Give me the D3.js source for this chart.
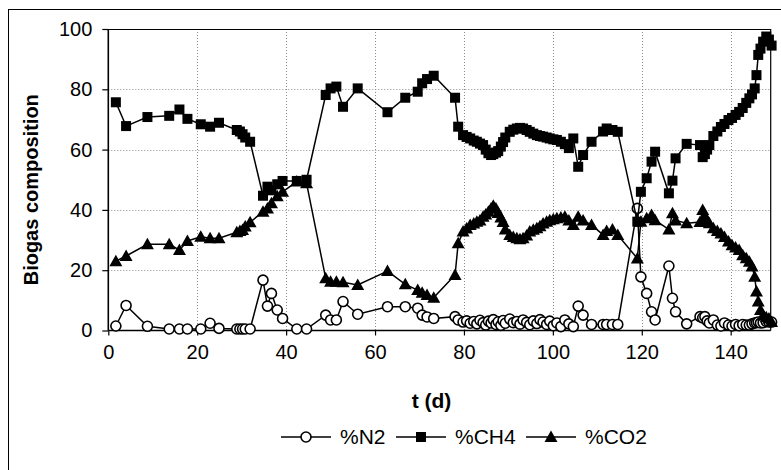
<!DOCTYPE html>
<html>
<head>
<meta charset="utf-8">
<script src="https://cdnjs.cloudflare.com/ajax/libs/d3/7.8.5/d3.min.js"></script>
<style>
  html, body { margin: 0; padding: 0; background: #fff; }
  svg { display: block; font-family: Arial, "Liberation Sans", sans-serif; }
</style>
</head>
<body>
<svg id="chart" width="781" height="470"></svg>
<script>
// ---- data ----
const days = [
  1.7, 4, 8.8, 13.7, 16, 17.8, 20.8, 22.9, 24.9, 28.9, 29.6, 30.2, 30.8, 31.9,
  34.8, 35.8, 36.7, 38, 39.2, 42.4, 44.6,
  48.9, 50, 51.3, 52.8, 56.1, 62.8, 66.8, 69.6, 70.6, 71.7, 73.2, 78,
  78.7, 79.8, 80.6, 81.4, 82.2, 82.9, 83.6, 84.3, 84.9, 85.5, 86.1, 86.6, 87.2, 87.7, 88.3, 88.8, 89.3,
  90.3, 91.1, 91.9, 92.6, 93.3, 94.1, 94.8, 95.6, 96.4, 97.1, 97.8, 98.6, 99.3, 100.1, 100.9, 101.8, 102.7, 103.6,
  104.6, 105.7, 106.8, 108.7, 111.3, 112.1, 113.4, 114.6,
  119, 119.8, 121.1, 122.2, 123, 126.1, 126.9, 127.6,
  130.1, 133.1, 133.7, 134.2, 134.7, 135.2, 136.1, 137, 137.8, 138.6, 139.5, 140.3, 141.1, 141.9,
  142.7, 143.5, 144.2, 144.8, 145.4, 145.8, 146.2, 146.7, 147.3, 148, 148.6, 149.2
];
const n2 = [
  1.5, 8.3, 1.4, 0.5, 0.5, 0.5, 0.5, 2.4, 0.7, 0.5, 0.5, 0.5, 0.5, 0.5,
  16.7, 8.1, 12.3, 6.8, 4, 0.5, 0.5,
  5.1, 3.5, 3.5, 9.6, 5.4, 7.9, 7.9, 7.4, 5.1, 4.5, 4, 4.6,
  3.5, 2.8, 3.2, 2.4, 3.0, 2.2, 3.4, 2.6, 1.8, 3.1, 2.5, 3.6, 2.0, 2.9, 1.7, 3.3, 2.4,
  3.8, 2.6, 3.0, 2.1, 3.5, 2.7, 1.9, 3.2, 2.3, 3.6, 2.8, 2.0, 3.1, 1.6, 2.5, 1.3, 3.5, 2.2,
  1.3, 8.1, 5.1, 2, 2, 2, 2, 2,
  40.5, 17.8, 12.3, 6.2, 3.5, 21.4, 10.7, 6.2,
  2.2, 4.6, 4.2, 4.6, 3.2, 2.5, 3.5, 1.8, 1.5, 2.5, 1.8, 1.5, 2, 1.6,
  2, 1.8, 1.8, 2.2, 2.5, 2.6, 2.8, 2.5, 2.6, 3, 2.8, 2.8
];
const ch4 = [
  75.7, 67.8, 70.8, 71.2, 73.3, 70.2, 68.4, 67.6, 68.9, 66.5, 66, 65.1, 64, 62.6,
  44.7, 47.7, 46.5, 48.5, 49.6, 49.6, 50,
  78.1, 80.3, 80.9, 74.2, 80.3, 72.4, 77.2, 79.2, 82, 83.4, 84.5, 77.2,
  67.6, 64.8, 64.2, 63.7, 63, 62.6, 62, 61.5, 60, 58.8, 58.2, 58.5, 59, 59.5, 61, 62.5, 64,
  65.9, 66.6, 67, 67.2, 67, 66.5, 65.9, 65.3, 64.8, 64.5, 64.3, 64, 63.7, 63.4, 63.2, 62.6, 61.8, 60.5,
  63.7, 54.3, 58.2, 62.6, 66, 67, 66.5, 65.9,
  36.1, 46, 50.5, 56, 59.3, 45.5, 49.7, 57.1,
  61.9, 61.5, 57.5, 58.5, 60, 61.5, 64.5, 66, 67.5, 68.5, 69.8, 70.5, 71.5, 72.5,
  73.8, 75.5, 77, 78.3, 80.3, 84.7, 91.4, 93.5, 95.8, 97.5, 96.5, 94.5
];
const co2 = [
  23, 24.7, 28.6, 28.6, 26.7, 29.7, 31.1, 30.6, 30.6, 32.6, 33, 33.3, 34.5, 35.9,
  39.4, 40.5, 42.2, 44.5, 46, 49.4, 48.8,
  17.3, 16.2, 16.2, 16, 15.1, 19.7, 15.3, 13.4, 12.5, 11.8, 10.9, 18.4,
  28.9, 32.8, 33.8, 35, 35.5, 36.1, 36.5, 37.7, 38.5, 39.4, 40.5, 41.4, 40.5, 39, 37.5, 36, 33.5,
  31.7, 31, 30.6, 30.3, 30.6, 31.5, 32.8, 33.4, 33.9, 34.6, 35.5, 36.1, 36.6, 36.9, 37.2, 37.5, 37.7, 36.5,
  35, 37.7, 36.5, 35, 31.7, 33, 33.5, 31.7,
  23.9, 36.1, 37.2, 38.3, 36.6, 33.5, 38.9, 36.5,
  35.6, 36, 40, 38, 36.5, 35.6, 33.9, 33, 32.2, 31, 29.5, 28.3, 27.5, 26.7,
  25, 24, 22.8, 21.2, 17.8, 12.9, 9.6, 6.8, 5, 4.4, 4, 2.8
];
const seriesNames = ["%N2", "%CH4", "%CO2"];
const xTicks = [0, 20, 40, 60, 80, 100, 120, 140];
const yTicks = [0, 20, 40, 60, 80, 100];

// ---- layout ----
const svg = d3.select("#chart");
const L = 108.3, R = 770.7, T = 29, B = 330.5;
const x = d3.scaleLinear().domain([0, 149]).range([L, R]);
const y = d3.scaleLinear().domain([0, 100]).range([B, T]);

// outer frame (cropped on right/bottom)
svg.append("rect").attr("x", 8.5).attr("y", 9.5).attr("width", 900).attr("height", 900)
  .attr("fill", "none").attr("stroke", "#000").attr("stroke-width", 1);

// gridlines
const grid = svg.append("g").attr("stroke", "#8c8c8c").attr("stroke-width", 1)
  .attr("stroke-dasharray", "1,2");
xTicks.filter(d => d > 0).forEach(d => {
  grid.append("line").attr("x1", Math.round(x(d)) + 0.5).attr("x2", Math.round(x(d)) + 0.5)
    .attr("y1", T).attr("y2", B);
});
yTicks.filter(d => d > 0 && d < 100).forEach(d => {
  grid.append("line").attr("y1", Math.round(y(d)) + 0.5).attr("y2", Math.round(y(d)) + 0.5)
    .attr("x1", L).attr("x2", R);
});

// plot border (top/right)
svg.append("path").attr("d", `M${L},${T + 0.5}H${R}V${B}`).attr("fill", "none")
  .attr("stroke", "#000").attr("stroke-width", 1.2);

// axes
const fs = 20;
const xAxis = svg.append("g").attr("transform", `translate(0,${B})`)
  .call(d3.axisBottom(x).tickValues(xTicks).tickSize(5).tickPadding(9).tickFormat(d3.format("d")));
const yAxis = svg.append("g").attr("transform", `translate(${L},0)`)
  .call(d3.axisLeft(y).tickValues(yTicks).tickSize(6).tickPadding(10).tickFormat(d3.format("d")));
[xAxis, yAxis].forEach(g => {
  g.select(".domain").attr("stroke", "#000").attr("stroke-width", 1.6);
  g.selectAll(".tick line").attr("stroke", "#000").attr("stroke-width", 1.2);
  g.selectAll("text").attr("font-size", fs).attr("fill", "#000")
    .attr("font-family", "Arial, 'Liberation Sans', sans-serif");
});
xAxis.select(".domain").attr("d", `M${L},0H${R}`);
yAxis.select(".domain").attr("d", `M0,${T}V${B}`);

// axis titles
svg.append("text").attr("transform", `translate(38,${(T + B) / 2 + 10}) rotate(-90)`)
  .attr("text-anchor", "middle").attr("font-size", 20).attr("font-weight", "bold")
  .text("Biogas composition");
svg.append("text").attr("transform", `translate(${(L + R) / 2 - 8},408)`)
  .attr("text-anchor", "middle").attr("font-size", 21).attr("font-weight", "bold")
  .text("t (d)");

// series
const line = d3.line().x(d => x(d[0])).y(d => y(d[1]));
const vals = [n2, ch4, co2];
const triPath = "M0,-6.5L6.5,5L-6.5,5Z";
function marker(g, i) {
  if (i === 0) g.append("circle").attr("r", 5).attr("fill", "#fff").attr("stroke", "#000").attr("stroke-width", 1.6);
  else if (i === 1) g.append("rect").attr("x", -5).attr("y", -5).attr("width", 10).attr("height", 10).attr("fill", "#000");
  else g.append("path").attr("d", triPath).attr("fill", "#000");
}
vals.forEach((v, i) => {
  const pts = days.map((d, k) => [d, v[k]]);
  const g = svg.append("g");
  g.append("path").attr("d", line(pts)).attr("fill", "none").attr("stroke", "#000").attr("stroke-width", 1.5);
  pts.forEach(p => {
    const m = g.append("g").attr("transform", `translate(${x(p[0])},${y(p[1])})`);
    marker(m, i);
  });
});

// legend
const legY = 437;
const legX = [281, 396, 526];
seriesNames.forEach((name, i) => {
  const g = svg.append("g").attr("transform", `translate(${legX[i]},${legY})`);
  g.append("line").attr("x1", 0).attr("x2", 50).attr("stroke", "#000").attr("stroke-width", 1.5);
  const m = g.append("g").attr("transform", "translate(25,0)");
  marker(m, i);
  g.append("text").attr("x", 59).attr("y", 7).attr("font-size", 21).text(name);
});
</script>
</body>
</html>
